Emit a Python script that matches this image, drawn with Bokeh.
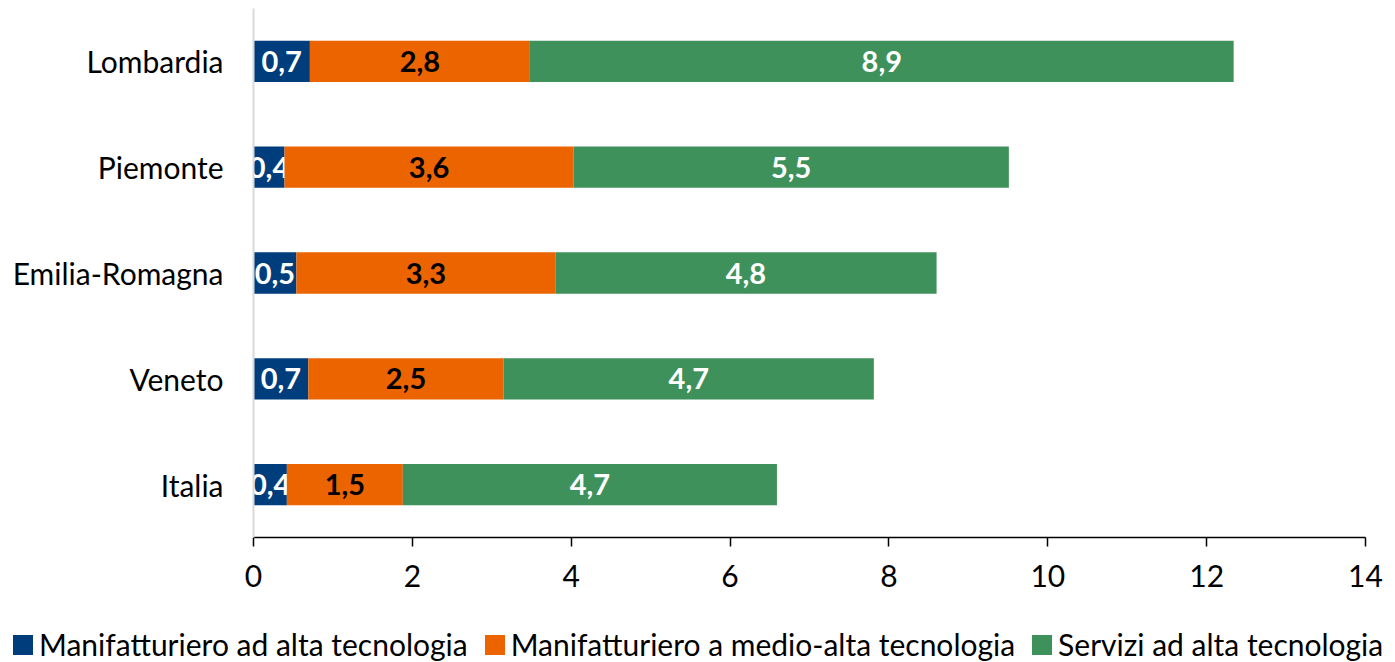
from bokeh.plotting import figure
from bokeh.models import ColumnDataSource, Legend, LegendItem, FixedTicker, FactorRange, Range1d
from bokeh.core.properties import value
from bokeh.embed import file_html
from bokeh.resources import INLINE

regions = ["Lombardia", "Piemonte", "Emilia-Romagna", "Veneto", "Italia"]
manif_alta = [0.71, 0.39, 0.54, 0.69, 0.42]
manif_medio = [2.77, 3.64, 3.26, 2.46, 1.46]
servizi = [8.86, 5.48, 4.80, 4.66, 4.71]
series_names = ["Manifatturiero ad alta tecnologia",
                "Manifatturiero a medio-alta tecnologia",
                "Servizi ad alta tecnologia"]
colors = ["#003d7c", "#eb6400", "#3f915c"]
label_colors = ["white", "black", "white"]
x_ticks = [0, 2, 4, 6, 8, 10, 12, 14]

FONT = "Lato"

p = figure(width=1395, height=605, output_backend="svg", toolbar_location=None,
           y_range=FactorRange(factors=list(reversed(regions)), range_padding=0),
           x_range=Range1d(0, 14))
p.min_border_left = 253
p.min_border_right = 30
p.min_border_top = 8
p.min_border_bottom = 68
p.outline_line_color = None
p.xgrid.visible = False
p.ygrid.visible = False

series = [manif_alta, manif_medio, servizi]
left = [0.0] * len(regions)
for vals, name, col, lc in zip(series, series_names, colors, label_colors):
    right = [l + v for l, v in zip(left, vals)]
    mid = [(l + r) / 2 for l, r in zip(left, right)]
    labels = [f"{v:.1f}".replace(".", ",") for v in vals]
    src = ColumnDataSource(dict(y=regions, left=left, right=right, mid=mid, lab=labels))
    p.hbar(y="y", left="left", right="right", height=0.39, source=src,
           fill_color=col, line_color=None)
    p.text(x="mid", y="y", text="lab", source=src, text_align="center",
           text_baseline="middle", text_color=lc, text_font=value(FONT),
           text_font_style="bold", text_font_size="29px")
    left = right

p.xaxis.ticker = FixedTicker(ticks=x_ticks)
p.xaxis.axis_line_color = "black"
p.xaxis.axis_line_width = 1.5
p.xaxis.major_tick_line_color = "black"
p.xaxis.major_tick_line_width = 1.5
p.xaxis.major_tick_out = 9
p.xaxis.major_tick_in = 0
p.xaxis.minor_tick_line_color = None
p.xaxis.major_label_standoff = 18
p.xaxis.major_label_text_font = FONT
p.xaxis.major_label_text_font_size = "30px"
p.xaxis.major_label_text_color = "black"

p.yaxis.axis_line_color = "#d9d9d9"
p.yaxis.axis_line_width = 2
p.yaxis.major_tick_line_color = None
p.yaxis.minor_tick_line_color = None
p.yaxis.major_label_standoff = 24
p.yaxis.major_label_text_font = FONT
p.yaxis.major_label_text_font_size = "30px"
p.yaxis.major_label_text_color = "black"

# legend strip (separate root so its frame is not aligned with the chart frame)
lg = figure(width=1395, height=57, output_backend="svg", toolbar_location=None,
            x_axis_location=None, y_axis_location=None,
            x_range=Range1d(0, 1), y_range=Range1d(0, 1))
lg.min_border = 0
lg.outline_line_color = None
lg.xgrid.visible = False
lg.ygrid.visible = False
nan = float("nan")
items = []
for name, col in zip(series_names, colors):
    r = lg.hbar(y=[nan], left=[nan], right=[nan], height=0.39,
                fill_color=col, line_color=None)
    items.append(LegendItem(label=name, renderers=[r]))
legend = Legend(items=items, orientation="horizontal", location=(10, 0),
                glyph_width=25, glyph_height=25, label_text_font=FONT,
                label_text_font_size="30px", label_text_color="black",
                spacing=14, padding=0, margin=0, label_standoff=4,
                border_line_color=None, background_fill_alpha=0)
lg.add_layout(legend, "center")

open("out.html", "w").write(file_html((p, lg), INLINE))
